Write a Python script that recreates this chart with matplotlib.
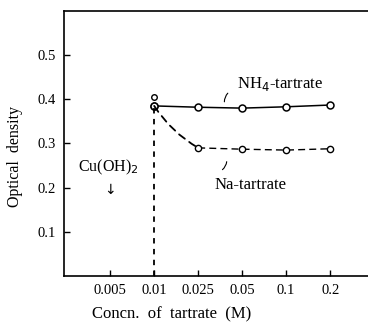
import numpy as np
import matplotlib.pyplot as plt

plt.rcParams['font.family'] = ['Liberation Serif', 'DejaVu Serif']

# concentrations shown as evenly spaced categories
conc_labels = ["0.005", "0.01", "0.025", "0.05", "0.1", "0.2"]
nh4_conc = ["0.01", "0.025", "0.05", "0.1", "0.2"]
nh4_od = [0.385, 0.382, 0.380, 0.383, 0.387]
na_conc = ["0.01", "0.025", "0.05", "0.1", "0.2"]
na_od = [0.385, 0.290, 0.287, 0.285, 0.288]
extra_conc = "0.01"
extra_od = 0.405
yticks = [0.1, 0.2, 0.3, 0.4, 0.5]

pos = {lab: i for i, lab in enumerate(conc_labels)}

fig = plt.figure(figsize=(3.68, 3.22), dpi=100)
ax = fig.add_axes([0.174, 0.143, 0.826, 0.823])

xn = [pos[c] for c in nh4_conc]
xa = [pos[c] for c in na_conc]

ax.plot(xn, nh4_od, '-', color='black', lw=1.1, marker='o', ms=5,
        mfc='white', mec='black', mew=1.1)
# sodium tartrate: curved drop from first point, then dashed plateau
ax.annotate("", xy=(xa[1], na_od[1]), xytext=(xa[0], na_od[0]),
            arrowprops=dict(arrowstyle='-', color='black', lw=1.3, ls=(0, (4, 3)),
                            connectionstyle="arc3,rad=0.12",
                            shrinkA=0, shrinkB=0))
ax.plot(xa[1:], na_od[1:], color='black', lw=1.0, ls=(0, (5, 3)), marker='o', ms=4.5,
        mfc='white', mec='black', mew=1.0)
ax.plot([pos[extra_conc]], [extra_od], 'o', ms=4, mfc='white', mec='black', mew=1.0)
ax.plot(xa[0], na_od[0], 'o', ms=5, mfc='white', mec='black', mew=1.1)
# precipitation boundary
ax.plot([pos["0.01"], pos["0.01"]], [0, na_od[0]], color='black', lw=1.3, ls=(0, (3, 3)))

ax.set_xlim(-1.05, 5.86)
ax.set_ylim(0, 0.6)
ax.set_xticks(range(len(conc_labels)))
ax.set_xticklabels(conc_labels)
ax.set_yticks(yticks)
ax.set_yticklabels([f"{v:.1f}" for v in yticks])
ax.tick_params(direction='in', length=4, width=1, labelsize=10.5, pad=6)
ax.spines['right'].set_visible(False)
for s in ['left', 'top', 'bottom']:
    ax.spines[s].set_linewidth(1.2)

ax.set_xlabel("Concn.  of  tartrate  (M)", fontsize=12)
ax.set_ylabel("Optical  density", fontsize=11.5)
ax.xaxis.set_label_coords(0.355, -0.115)
ax.yaxis.set_label_coords(-0.135, 0.45)

ax.text(2.88, 0.435, "NH$_4$-tartrate", fontsize=12, ha='left', va='center')
ax.annotate("", xy=(2.6, 0.388), xytext=(2.72, 0.418),
            arrowprops=dict(arrowstyle='-', color='black', lw=0.8,
                            connectionstyle="arc3,rad=0.3"))
ax.text(2.38, 0.207, "Na-tartrate", fontsize=12, ha='left', va='center')
ax.annotate("", xy=(2.65, 0.265), xytext=(2.5, 0.237),
            arrowprops=dict(arrowstyle='-', color='black', lw=0.8,
                            connectionstyle="arc3,rad=0.3"))
ax.text(-0.05, 0.245, "Cu(OH)$_2$", fontsize=11.5, ha='center', va='center')
ax.text(0.0, 0.195, "↓", fontsize=10, ha='center', va='center', family='DejaVu Sans')

fig.savefig("out.png", dpi=100)
